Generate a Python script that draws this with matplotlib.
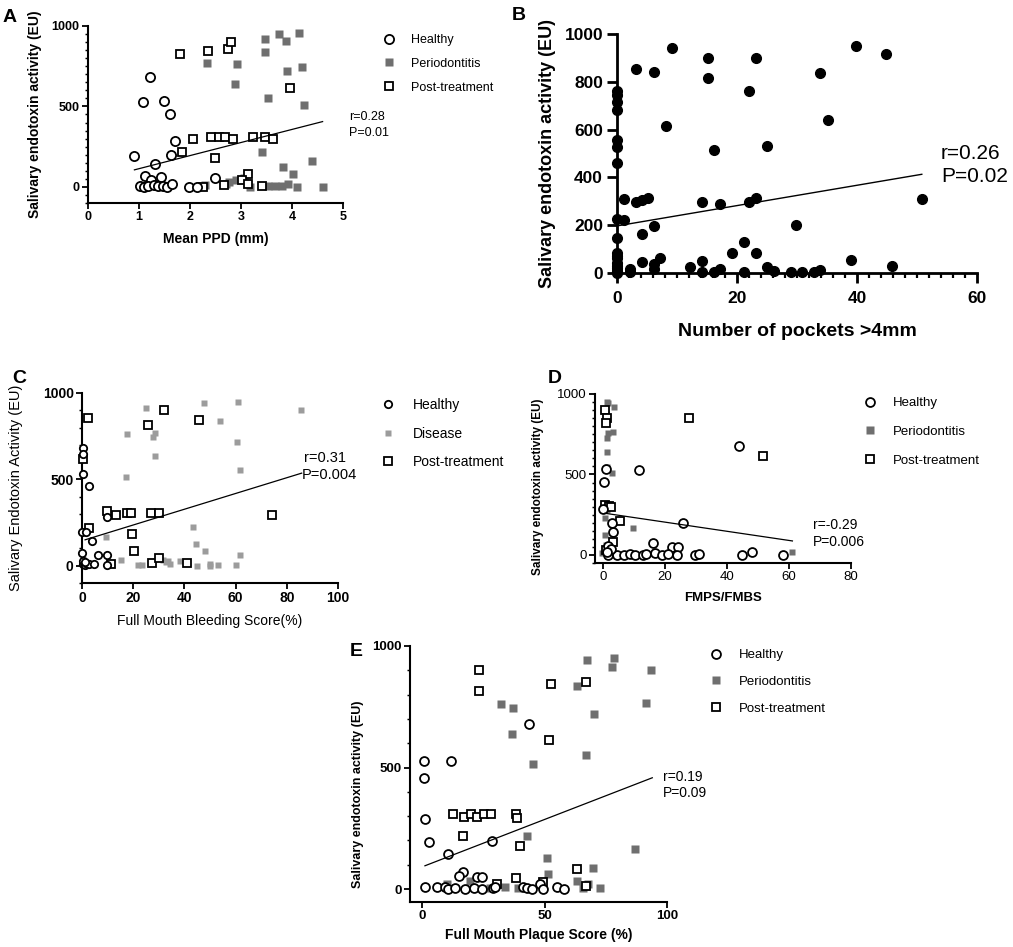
import matplotlib
matplotlib.use("Agg")
import matplotlib.pyplot as plt
from matplotlib.ticker import MultipleLocator
from matplotlib.lines import Line2D

plt.rcParams['font.family'] = ['Liberation Sans', 'DejaVu Sans']

# ---------------- data ----------------
# Panel A: Mean PPD (mm)
a_healthy_x = [1.22, 1.08, 1.49, 1.61, 1.71, 0.91, 1.63, 1.31, 1.12, 1.24, 1.43, 1.02, 1.10, 1.18, 1.30, 1.38, 1.47, 1.55, 1.65, 1.99, 2.14, 2.49]
a_healthy_y = [681, 526, 532, 453, 288, 195, 199, 143, 68, 45, 60, 5, 2, 3, 10, 3, 5, 2, 20, 2, 2, 54]
a_perio_x = [3.48, 3.75, 3.88, 4.14, 3.48, 2.33, 2.92, 3.90, 4.19, 2.88, 3.52, 4.24, 3.42, 4.40, 3.82, 4.01, 4.60,
             2.30, 2.70, 2.76, 2.90, 3.05, 3.18, 3.52, 3.67, 3.80, 3.92, 4.09]
a_perio_y = [919, 950, 905, 954, 840, 768, 764, 723, 747, 640, 551, 509, 219, 164, 126, 81, 0,
             10, 20, 29, 43, 55, 2, 6, 6, 6, 20, 2]
a_post_x = [1.80, 2.35, 2.74, 2.80, 3.97, 2.05, 2.42, 2.56, 2.69, 2.85, 3.23, 3.47, 3.62, 1.85, 2.49, 3.13, 3.01, 2.26, 2.67, 3.14, 3.41]
a_post_y = [824, 847, 855, 903, 617, 298, 308, 313, 313, 296, 308, 313, 296, 219, 178, 81, 43, 2, 12, 19, 8]
a_fit_x = [0.91, 4.60]
a_fit_y = [106, 406]

# Panel B: Number of pockets >4mm
b_x = [9.1, 3.2, 6.2, 15.1, 15.1, 23.1, 22.0, 39.9, 44.9, 33.9, 35.1, 8.1, 16.1, 25.0, 50.9, 1.2, 3.2, 4.1, 5.2,
       14.1, 17.1, 22.0, 23.1, 29.9, 1.2, 4.1, 6.2, 21.1, 19.1, 23.1, 7.2, 4.1, 14.1, 6.2, 39.0, 45.9, 2.2, 12.1,
       14.1, 16.1, 17.1, 21.1, 25.0, 26.1, 29.0, 30.9, 32.9, 33.9, 6.2, 2.2,
       0, 0, 0, 0, 0, 0, 0, 0, 0, 0, 0, 0, 0, 0, 0, 0, 0, 0]
b_y = [943, 852, 842, 901, 817, 901, 762, 951, 915, 838, 639, 615, 513, 530, 310, 310, 296, 305, 312,
       296, 289, 296, 312, 202, 220, 165, 197, 128, 84, 84, 64, 45, 50, 36, 56, 28, 18, 24,
       6, 6, 15, 6, 24, 8, 6, 6, 6, 13, 18, 5,
       763, 745, 717, 682, 556, 529, 459, 225, 148, 82, 70, 61, 40, 30, 20, 10, 5, 0]
b_fit_x = [0, 50.8]
b_fit_y = [197, 413]

# Panel C: Full Mouth Bleeding Score (%)
c_healthy_x = [0.3, 0.3, 0.3, 2.9, 0, 1.6, 3.8, 9.9, 6.4, 9.9, 9.6, 0, 0.3, 1.0, 1.8, 2.6, 4.5, 0.5, 1.2]
c_healthy_y = [684, 645, 532, 459, 198, 198, 141, 285, 64, 60, 6, 73, 10, 5, 10, 8, 10, 30, 20]
c_dis_x = [24.9, 47.8, 60.8, 85.7, 53.9, 17.4, 28.5, 27.9, 60.4, 28.5, 61.7, 17.1, 9.2, 43.5, 44.4, 48.0, 61.7,
           15.1, 22.0, 23.3, 31.8, 32.7, 34.4, 38.3, 45.0, 50.0, 50.0, 53.3, 60.0, 33.5, 0.5, 1.5]
c_dis_y = [915, 944, 950, 902, 838, 761, 771, 744, 719, 636, 555, 512, 164, 222, 125, 83, 64,
           35, 2, 2, 35, 19, 12, 25, 0, 12, 0, 2, 6, 30, 40, 15]
c_post_x = [2.5, 25.9, 32.2, 45.7, 0.3, 9.9, 13.2, 17.4, 19.1, 26.8, 30.1, 74.1, 2.9, 19.7, 20.3, 27.5, 30.1, 40.9, 11.3]
c_post_y = [854, 815, 902, 844, 617, 314, 295, 304, 308, 308, 304, 295, 218, 183, 83, 15, 44, 15, 12]
c_fit_x = [1.2, 85.8]
c_fit_y = [150, 536]

# Panel D: FMPS/FMBS
d_healthy_x = [43.9, 11.6, 1.0, 0.4, 0.1, 25.7, 2.8, 3.1, 1.5, 16.2, 22.2, 24.1, 48.0, 44.7, 58.0, 29.7, 30.8,
               1.7, 4.4, 6.6, 8.7, 10.3, 13.0, 13.9, 16.8, 18.9, 21.0, 24.0, 2.5, 1.2]
d_healthy_y = [679, 528, 532, 455, 286, 201, 197, 145, 58, 72, 52, 52, 21, 0, 0, 0, 6,
               0, 0, 0, 6, 0, 0, 4, 10, 0, 4, 0, 40, 20]
d_perio_x = [1.2, 1.7, 3.5, 1.0, 1.7, 3.3, 1.2, 1.2, 1.2, 2.8, 1.2, 0.6, 0.6, -0.4, 9.8, 61.1, 2.0, 0.8, 1.5]
d_perio_y = [952, 942, 917, 880, 756, 766, 725, 642, 549, 511, 280, 228, 124, 14, 166, 21, 300, 60, 10]
d_post_x = [27.8, 0.6, 1.2, 1.0, 51.5, 0.6, 2.0, 5.5, 3.3, 1.0, 2.5]
d_post_y = [853, 900, 849, 818, 615, 311, 304, 213, 83, 30, 300]
d_fit_x = [0.6, 61.1]
d_fit_y = [259, 87]

# Panel E: Full Mouth Plaque Score (%)
e_healthy_x = [1.0, 11.8, 1.0, 43.8, 1.2, 3.0, 28.4, 10.7, 16.6, 15.2, 22.3, 24.4, 48.2, 1.2, 6.0, 9.4, 10.7, 13.5,
               17.6, 21.2, 24.4, 28.8, 29.8, 41.1, 42.7, 44.8, 49.5, 55.0, 58.1]
e_healthy_y = [528, 528, 458, 679, 287, 195, 199, 144, 69, 55, 48, 48, 21, 10, 7, 7, 0, 5,
               0, 5, 0, 3, 7, 10, 3, 0, 0, 10, 0]
e_perio_x = [67.5, 78.5, 77.4, 93.5, 63.1, 32.1, 37.3, 91.3, 70.3, 36.6, 66.8, 45.2, 42.7, 86.9, 51.2, 51.6, 69.9,
             63.4, 67.8, 72.7, 10.3, 19.6, 33.9, 39.3, 27.8, 65.9]
e_perio_y = [942, 949, 915, 901, 837, 761, 746, 767, 719, 638, 551, 513, 219, 165, 126, 64, 85,
             34, 21, 3, 21, 34, 10, 3, 3, 3]
e_post_x = [23.4, 23.4, 52.7, 66.8, 51.8, 12.8, 17.1, 20.0, 22.6, 25.3, 28.0, 38.2, 38.6, 16.6, 40.0, 38.2, 30.5, 49.3, 63.4, 66.9]
e_post_y = [901, 816, 844, 850, 613, 307, 295, 311, 295, 309, 307, 307, 291, 218, 178, 44, 19, 30, 82, 12]
e_fit_x = [1.2, 94]
e_fit_y = [96, 458]

# ---------------- figure ----------------
W, H = 1013, 947
fig = plt.figure(figsize=(W / 100, H / 100), dpi=100)


def make_ax(left, right, top, bottom, xlim, ylim, lw):
    ax = fig.add_axes([left / W, 1 - bottom / H, (right - left) / W, (bottom - top) / H])
    ax.set_xlim(*xlim)
    ax.set_ylim(*ylim)
    for s in ['top', 'right']:
        ax.spines[s].set_visible(False)
    for s in ['left', 'bottom']:
        ax.spines[s].set_linewidth(lw)
    ax.patch.set_alpha(0)
    return ax


def style_ticks(ax, size, bold, lw, length=4, pad=2):
    ax.tick_params(which='major', direction='out', width=lw, length=length, labelsize=size, pad=pad)
    ax.tick_params(which='minor', direction='out', width=lw * 0.8, length=length * 0.55)
    for lab in ax.get_xticklabels() + ax.get_yticklabels():
        lab.set_fontweight('bold' if bold else 'normal')


def legend(ax, handles, labels, x, y, fs, spacing, tpad):
    ax.legend(handles, labels, loc='upper left', bbox_to_anchor=(x / W, 1 - y / H),
              bbox_transform=fig.transFigure, frameon=False, fontsize=fs, labelspacing=spacing,
              handlelength=1.0, handletextpad=tpad, borderpad=0, borderaxespad=0)


GREY = '#6f6f6f'
LGREY = '#9c9c9c'

# ---- Panel A ----
axA = make_ax(88, 343, 26, 203, (0, 5), (-100, 1000), 1.5)
axA.plot(a_perio_x, a_perio_y, 's', ms=5.6, mfc=GREY, mec='none', zorder=2)
axA.plot(a_post_x, a_post_y, 's', ms=6.0, mfc='white', mec='black', mew=1.3, zorder=3)
axA.plot(a_healthy_x, a_healthy_y, 'o', ms=6.6, mfc='white', mec='black', mew=1.3, zorder=4)
axA.plot(a_fit_x, a_fit_y, '-', color='black', lw=0.9, zorder=5)
axA.set_xticks([0, 1, 2, 3, 4, 5])
axA.set_yticks([0, 500, 1000])
axA.yaxis.set_minor_locator(MultipleLocator(50))
style_ticks(axA, 9, True, 1.3)
axA.set_xlabel('Mean PPD (mm)', fontsize=10, fontweight='bold', labelpad=6)
axA.set_ylabel('Salivary endotoxin activity (EU)', fontsize=10, fontweight='bold', labelpad=4)
axA.yaxis.set_label_coords(-0.18, 0.5)
axA.text(5.12, 435, 'r=0.28', fontsize=9, va='center', ha='left', clip_on=False)
axA.text(5.12, 335, 'P=0.01', fontsize=9, va='center', ha='left', clip_on=False)
hA = [Line2D([], [], ls='none', marker='o', ms=6.6, mfc='white', mec='black', mew=1.3),
      Line2D([], [], ls='none', marker='s', ms=5.6, mfc=GREY, mec='none'),
      Line2D([], [], ls='none', marker='s', ms=6.0, mfc='white', mec='black', mew=1.3)]
legend(axA, hA, ['Healthy', 'Periodontitis', 'Post-treatment'], 383, 34, 9, 0.95, 1.2)
fig.text(3 / W, 1 - 18 / H, 'A', fontsize=14, fontweight='bold', va='center', ha='left')

# ---- Panel B ----
axB = make_ax(617, 977, 34, 273, (0, 60), (0, 1000), 2.0)
axB.plot(b_x, b_y, 'o', ms=7.0, mfc='black', mec='black', clip_on=False, zorder=3)
axB.plot(b_fit_x, b_fit_y, '-', color='black', lw=1.0, zorder=4)
axB.set_xticks([0, 20, 40, 60])
axB.set_yticks([0, 200, 400, 600, 800, 1000])
axB.xaxis.set_minor_locator(MultipleLocator(2))
style_ticks(axB, 12.5, True, 2.0, length=7, pad=3)
axB.tick_params(axis='x', which='major', pad=6)
axB.tick_params(which='minor', length=3.5)
axB.set_xlabel('Number of pockets >4mm', fontsize=14, fontweight='bold', labelpad=12)
axB.set_ylabel('Salivary endotoxin activity (EU)', fontsize=13, fontweight='bold', labelpad=6)
axB.text(54.0, 498, 'r=0.26', fontsize=15, va='center', ha='left', clip_on=False)
axB.text(54.0, 402, 'P=0.02', fontsize=15, va='center', ha='left', clip_on=False)
fig.text(512 / W, 1 - 16 / H, 'B', fontsize=14, fontweight='bold', va='center', ha='left')

# ---- Panel C ----
axC = make_ax(82, 338, 393, 583, (0, 100), (-100, 1000), 1.5)
axC.plot(c_dis_x, c_dis_y, 's', ms=4.8, mfc=LGREY, mec='none', zorder=2, clip_on=False)
axC.plot(c_post_x, c_post_y, 's', ms=5.8, mfc='white', mec='black', mew=1.3, zorder=3, clip_on=False)
axC.plot(c_healthy_x, c_healthy_y, 'o', ms=5.3, mfc='white', mec='black', mew=1.3, zorder=4, clip_on=False)
axC.plot(c_fit_x, c_fit_y, '-', color='black', lw=0.9, zorder=5)
axC.set_xticks([0, 20, 40, 60, 80, 100])
axC.set_yticks([0, 500, 1000])
axC.yaxis.set_minor_locator(MultipleLocator(100))
style_ticks(axC, 10, True, 1.3)
axC.set_xlabel('Full Mouth Bleeding Score(%)', fontsize=10, labelpad=6)
axC.set_ylabel('Salivary Endotoxin Activity (EU)', fontsize=10.5, labelpad=4)
axC.yaxis.set_label_coords(-0.23, 0.5)
axC.text(86.8, 624, 'r=0.31', fontsize=10.5, va='center', ha='left', clip_on=False)
axC.text(85.8, 526, 'P=0.004', fontsize=10.5, va='center', ha='left', clip_on=False)
hC = [Line2D([], [], ls='none', marker='o', ms=5.3, mfc='white', mec='black', mew=1.3),
      Line2D([], [], ls='none', marker='s', ms=4.8, mfc=LGREY, mec='none'),
      Line2D([], [], ls='none', marker='s', ms=5.8, mfc='white', mec='black', mew=1.3)]
legend(axC, hC, ['Healthy', 'Disease', 'Post-treatment'], 381, 398, 10, 1.05, 1.3)
fig.text(12 / W, 1 - 378 / H, 'C', fontsize=14, fontweight='bold', va='center', ha='left')

# ---- Panel D ----
axD = make_ax(595, 851, 394, 563, (-2.6, 80), (-50, 1000), 1.5)
axD.plot(d_perio_x, d_perio_y, 's', ms=4.8, mfc=GREY, mec='none', zorder=2, clip_on=False)
axD.plot(d_post_x, d_post_y, 's', ms=6.0, mfc='white', mec='black', mew=1.3, zorder=3, clip_on=False)
axD.plot(d_healthy_x, d_healthy_y, 'o', ms=6.4, mfc='white', mec='black', mew=1.3, zorder=4, clip_on=False)
axD.plot(d_fit_x, d_fit_y, '-', color='black', lw=0.9, zorder=5)
axD.set_xticks([0, 20, 40, 60, 80])
axD.set_yticks([0, 500, 1000])
axD.yaxis.set_minor_locator(MultipleLocator(50))
style_ticks(axD, 9.5, False, 1.3)
axD.set_xlabel('FMPS/FMBS', fontsize=9.5, fontweight='bold', labelpad=6)
axD.set_ylabel('Salivary endotoxin activity (EU)', fontsize=8.5, fontweight='bold', labelpad=4)
axD.yaxis.set_label_coords(-0.2, 0.45)
axD.text(67.7, 186, 'r=-0.29', fontsize=10, va='center', ha='left', clip_on=False)
axD.text(67.7, 81, 'P=0.006', fontsize=10, va='center', ha='left', clip_on=False)
hD = [Line2D([], [], ls='none', marker='o', ms=6.4, mfc='white', mec='black', mew=1.3),
      Line2D([], [], ls='none', marker='s', ms=5.6, mfc=GREY, mec='none'),
      Line2D([], [], ls='none', marker='s', ms=6.0, mfc='white', mec='black', mew=1.3)]
legend(axD, hD, ['Healthy', 'Periodontitis', 'Post-treatment'], 863, 397, 9.5, 1.25, 1.3)
fig.text(548 / W, 1 - 378 / H, 'D', fontsize=14, fontweight='bold', va='center', ha='left')

# ---- Panel E ----
axE = make_ax(410, 667, 646, 902, (-4.9, 100), (-53, 1000), 1.5)
axE.plot(e_perio_x, e_perio_y, 's', ms=5.3, mfc=GREY, mec='none', zorder=2, clip_on=False)
axE.plot(e_post_x, e_post_y, 's', ms=6.0, mfc='white', mec='black', mew=1.3, zorder=3, clip_on=False)
axE.plot(e_healthy_x, e_healthy_y, 'o', ms=6.4, mfc='white', mec='black', mew=1.3, zorder=4, clip_on=False)
axE.plot(e_fit_x, e_fit_y, '-', color='black', lw=0.9, zorder=5)
axE.set_xticks([0, 50, 100])
axE.set_yticks([0, 500, 1000])
axE.yaxis.set_minor_locator(MultipleLocator(100))
style_ticks(axE, 9.5, True, 1.3)
axE.set_xlabel('Full Mouth Plaque Score (%)', fontsize=10, fontweight='bold', labelpad=4)
axE.set_ylabel('Salivary endotoxin activity (EU)', fontsize=9, fontweight='bold', labelpad=4)
axE.yaxis.set_label_coords(-0.18, 0.42)
axE.text(98.4, 461, 'r=0.19', fontsize=10, va='center', ha='left', clip_on=False)
axE.text(98.4, 395, 'P=0.09', fontsize=10, va='center', ha='left', clip_on=False)
hE = [Line2D([], [], ls='none', marker='o', ms=6.4, mfc='white', mec='black', mew=1.3),
      Line2D([], [], ls='none', marker='s', ms=5.3, mfc=GREY, mec='none'),
      Line2D([], [], ls='none', marker='s', ms=6.0, mfc='white', mec='black', mew=1.3)]
legend(axE, hE, ['Healthy', 'Periodontitis', 'Post-treatment'], 709, 649, 9.5, 1.1, 1.3)
fig.text(350 / W, 1 - 651 / H, 'E', fontsize=14, fontweight='bold', va='center', ha='left')

fig.savefig('out.png', dpi=100)
